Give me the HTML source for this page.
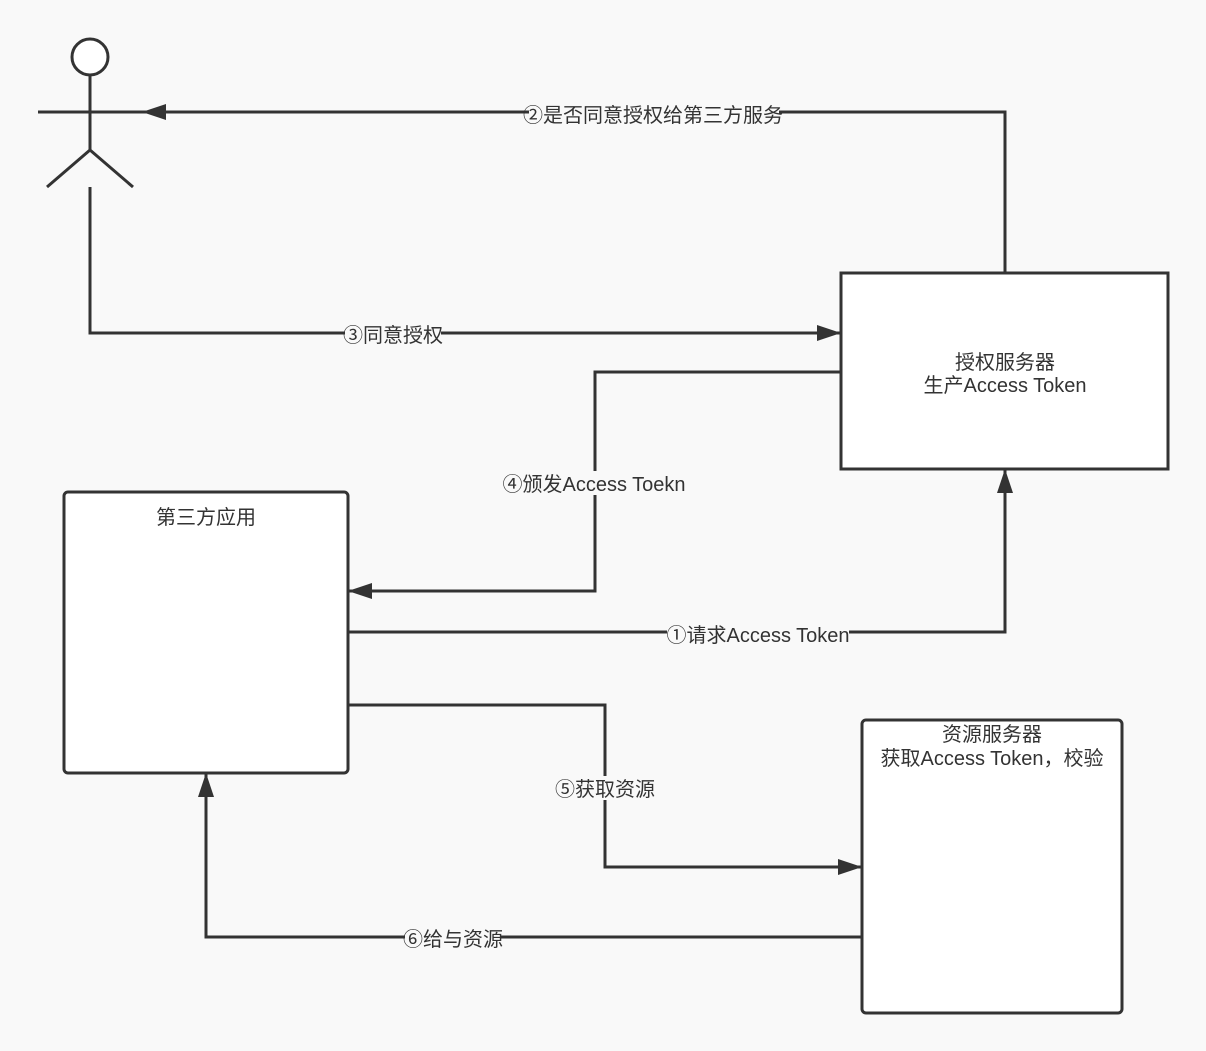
<!DOCTYPE html>
<html><head><meta charset="utf-8"><style>
html,body{margin:0;padding:0;background:#f9f9f9;}
svg{display:block}
text{font-family:"Liberation Sans","Noto Sans CJK SC",sans-serif;font-size:20px;fill:#333;}
</style></head><body>
<svg width="1206" height="1051" viewBox="0 0 1206 1051" xmlns="http://www.w3.org/2000/svg">
<defs>
<marker id="a" markerWidth="24" markerHeight="18" refX="24" refY="8" orient="auto" markerUnits="userSpaceOnUse">
<path d="M0,0 L24,8 L0,16 Z" fill="#333"/>
</marker>
</defs>
<g stroke="#333" stroke-width="3" fill="none">
<circle cx="90" cy="57" r="18" fill="#fff"/>
<line x1="90" y1="75" x2="90" y2="150"/>
<line x1="90" y1="150" x2="47" y2="187"/>
<line x1="90" y1="150" x2="133" y2="187"/>
<line x1="38" y1="112" x2="145" y2="112"/>
<rect x="841" y="273" width="327" height="196" fill="#fff"/>
<rect x="64" y="492" width="284" height="281" rx="4" fill="#fff"/>
<rect x="862" y="720" width="260" height="293" rx="4" fill="#fff"/>
<polyline points="1005,273 1005,112 142,112" marker-end="url(#a)"/>
<polyline points="90,187 90,333 841,333" marker-end="url(#a)"/>
<polyline points="841,372 595,372 595,591 348,591" marker-end="url(#a)"/>
<polyline points="348,632 1005,632 1005,469" marker-end="url(#a)"/>
<polyline points="348,705 605,705 605,867 862,867" marker-end="url(#a)"/>
<polyline points="862,937 206,937 206,773" marker-end="url(#a)"/>
</g>
<g fill="#f9f9f9">
<rect x="529" y="102" width="250" height="24"/>
<rect x="345" y="322" width="96" height="24"/>
<rect x="503" y="471" width="182" height="24"/>
<rect x="667" y="622" width="182" height="24"/>
<rect x="557" y="776" width="96" height="24"/>
<rect x="405" y="926" width="96" height="24"/>
</g>
<text x="653" y="122" text-anchor="middle">②是否同意授权给第三方服务</text>
<text x="393" y="342" text-anchor="middle">③同意授权</text>
<text x="594" y="491" text-anchor="middle">④颁发Access Toekn</text>
<text x="758" y="642" text-anchor="middle">①请求Access Token</text>
<text x="605" y="796" text-anchor="middle">⑤获取资源</text>
<text x="453" y="946" text-anchor="middle">⑥给与资源</text>
<text x="1005" y="369" text-anchor="middle">授权服务器</text>
<text x="1005" y="392" text-anchor="middle">生产Access Token</text>
<text x="206" y="524" text-anchor="middle">第三方应用</text>
<text x="992" y="741" text-anchor="middle">资源服务器</text>
<text x="992" y="765" text-anchor="middle">获取Access Token，校验</text>
</svg>
</body></html>
